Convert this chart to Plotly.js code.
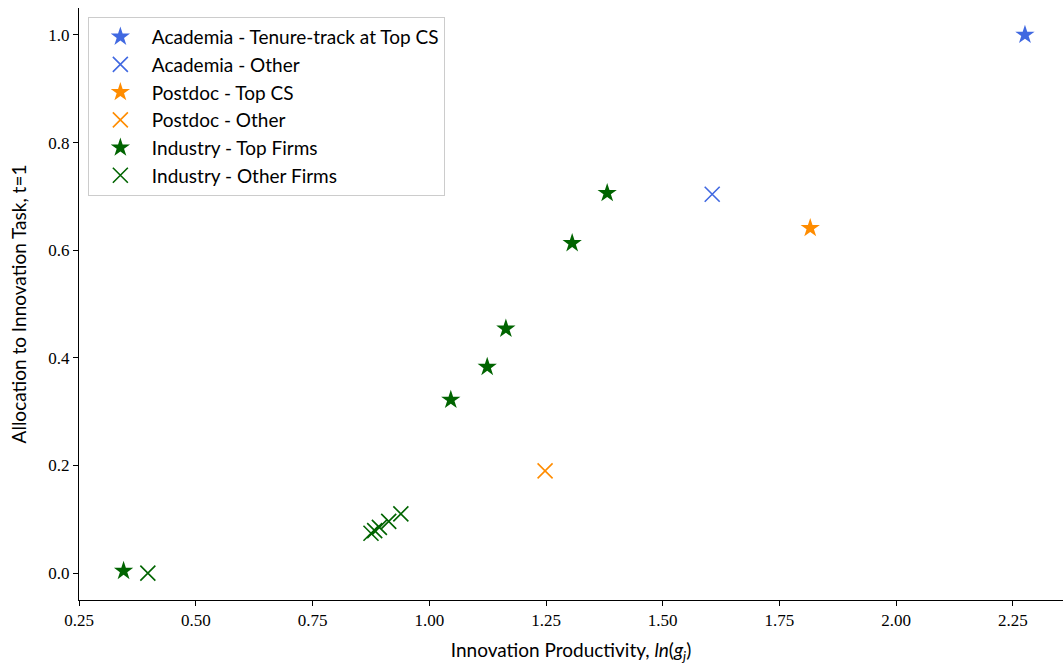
<!DOCTYPE html>
<html>
<head>
<meta charset="utf-8">
<script src="https://cdn.plot.ly/plotly-3.0.1.min.js"></script>
<style>html,body{margin:0;padding:0;background:#fff;}#chart{width:1063px;height:664px;}</style>
</head>
<body>
<div id="chart"></div>
<script>
// Data
const acadTopX = [2.276];
const acadTopY = [1.0];
const acadOtherX = [1.606];
const acadOtherY = [0.704];
const postTopX = [1.816];
const postTopY = [0.641];
const postOtherX = [1.248];
const postOtherY = [0.190];
const indTopX = [0.345, 1.046, 1.124, 1.164, 1.306, 1.381];
const indTopY = [0.004, 0.322, 0.383, 0.454, 0.613, 0.706];
const indOtherX = [0.397, 0.875, 0.883, 0.893, 0.913, 0.939];
const indOtherY = [0.000, 0.074, 0.079, 0.085, 0.096, 0.110];

const names = [
  "Academia - Tenure-track at Top CS",
  "Academia - Other",
  "Postdoc - Top CS",
  "Postdoc - Other",
  "Industry - Top Firms",
  "Industry - Other Firms"
];
const blue = "#4169E1", orange = "#FF8C00", green = "#006400";

function star(x, y, name, color) {
  return {x: x, y: y, name: name, type: "scatter", mode: "markers",
    marker: {symbol: "star", size: 14.5, color: color, line: {width: 0}}};
}
function cross(x, y, name, color) {
  return {x: x, y: y, name: name, type: "scatter", mode: "markers",
    marker: {symbol: "x-thin-open", size: 15, color: color, line: {width: 1.6, color: color}}};
}

const data = [
  star(acadTopX, acadTopY, names[0], blue),
  cross(acadOtherX, acadOtherY, names[1], blue),
  star(postTopX, postTopY, names[2], orange),
  cross(postOtherX, postOtherY, names[3], orange),
  star(indTopX, indTopY, names[4], green),
  cross(indOtherX, indOtherY, names[5], green)
];

const tickFont = {family: "Liberation Serif, DejaVu Serif, serif", size: 17, color: "#000"};
const labelFont = {family: "Lato, Open Sans, sans-serif", size: 19, color: "#000"};

const layout = {
  width: 1063, height: 664,
  margin: {l: 79, r: 0, t: 8, b: 64},
  paper_bgcolor: "#fff", plot_bgcolor: "#fff",
  showlegend: true,
  xaxis: {
    range: [0.2495, 2.3575],
    tickvals: [0.25, 0.5, 0.75, 1.0, 1.25, 1.5, 1.75, 2.0, 2.25],
    ticktext: ["0.25", "0.50", "0.75", "1.00", "1.25", "1.50", "1.75", "2.00", "2.25"],
    ticks: "outside", ticklen: 5, tickwidth: 1, tickcolor: "#000",
    showgrid: false, zeroline: false,
    showline: true, linecolor: "#000", linewidth: 1,
    tickfont: tickFont,
    title: {text: "Innovation Productivity, <i>ln</i>(<i>g<sub>j</sub></i>)", font: labelFont, standoff: 18}
  },
  yaxis: {
    range: [-0.05, 1.05],
    tickvals: [0, 0.2, 0.4, 0.6, 0.8, 1.0],
    ticktext: ["0.0", "0.2", "0.4", "0.6", "0.8", "1.0"],
    ticks: "outside", ticklen: 5, tickwidth: 1, tickcolor: "#000",
    showgrid: false, zeroline: false,
    showline: true, linecolor: "#000", linewidth: 1,
    tickfont: tickFont,
    title: {text: "Allocation to Innovation Task, t=1", font: labelFont, standoff: 16}
  },
  legend: {
    x: 0.009, y: 0.985, xanchor: "left", yanchor: "top",
    bgcolor: "rgba(255,255,255,0.8)", bordercolor: "#cccccc", borderwidth: 1,
    font: {family: "Lato, Open Sans, sans-serif", size: 19, color: "#000"},
    itemwidth: 53, tracegroupgap: 0
  }
};

Plotly.newPlot("chart", data, layout, {displayModeBar: false, staticPlot: true});
</script>
</body>
</html>
